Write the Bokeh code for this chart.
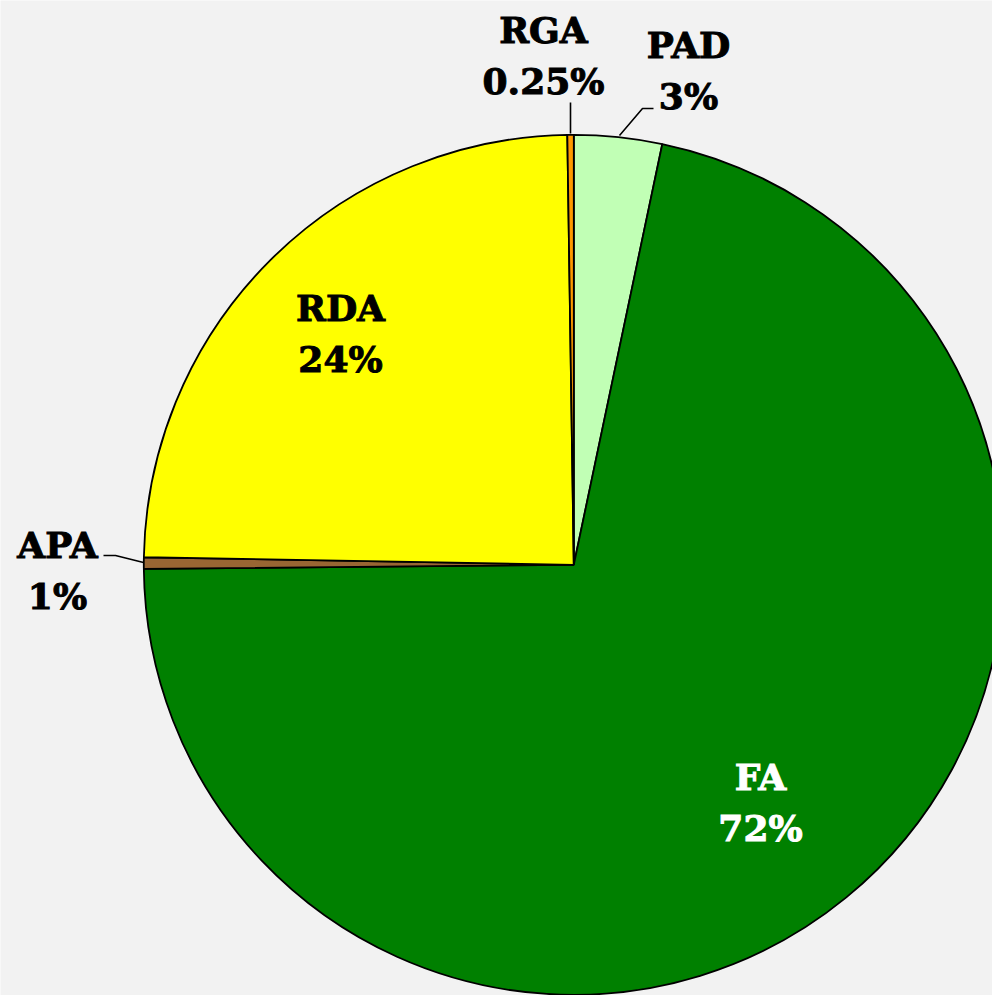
import numpy as np
from bokeh.plotting import figure
from bokeh.models import Range1d, ColumnDataSource
from bokeh.core.properties import value
from bokeh.embed import file_html
from bokeh.resources import INLINE

# ---- data ----
categories = ["PAD", "FA", "APA", "RDA", "RGA"]
shares = [3.3, 71.55, 0.43, 24.48, 0.24]
pct_labels = ["3%", "72%", "1%", "24%", "0.25%"]
colors = ["#c1ffb5", "#008000", "#996633", "#ffff00", "#ff9900"]
label_colors = ["black", "white", "black", "black", "black"]

# ---- layout (page pixel coordinates) ----
W, H = 992, 995
OFF = 0
CX, CY = 573.3, 564.3
R = 430

def X(px):
    return px - CX

def Y(py):
    return CY - py

# label anchors (center x, name baseline y) in page pixels
label_pos = {
    "PAD": (688, 44),
    "FA": (760, 776),
    "APA": (57, 544),
    "RDA": (340, 307),
    "RGA": (543, 29),
}
LINE_GAP = 51

leaders = [
    [(570, 102), (570, 133)],
    [(653, 108), (642, 108), (619, 135)],
    [(103, 555), (115, 555), (143, 562)],
]

frac = np.array(shares) / np.sum(shares)
cw_end = np.cumsum(frac) * 2 * np.pi
cw_start = cw_end - frac * 2 * np.pi
start_angle = np.pi / 2 - cw_end
end_angle = np.pi / 2 - cw_start

src = ColumnDataSource(dict(cat=categories, start=start_angle, end=end_angle, color=colors))

p = figure(width=W, height=H, output_backend="svg", toolbar_location=None,
           x_range=Range1d(X(OFF), X(OFF + W)), y_range=Range1d(Y(OFF + H), Y(OFF)),
           x_axis_location=None, y_axis_location=None, min_border=0,
           background_fill_color="#f2f2f2", border_fill_color="#f2f2f2",
           outline_line_color=None)
p.grid.visible = False

p.wedge(x=0, y=0, radius=R, start_angle="start", end_angle="end",
        fill_color="color", line_color="black", line_width=1.8, source=src)

p.multi_line(xs=[[X(a) for a, b in seg] for seg in leaders],
             ys=[[Y(b) for a, b in seg] for seg in leaders],
             line_color="black", line_width=1.6)

lx, ly1, ly2, names, pcts, tcol = [], [], [], [], [], []
for c, pl, tc in zip(categories, pct_labels, label_colors):
    px, py = label_pos[c]
    lx.append(X(px)); ly1.append(Y(py)); ly2.append(Y(py + LINE_GAP))
    names.append(c); pcts.append(pl); tcol.append(tc)

lsrc = ColumnDataSource(dict(x=lx, y1=ly1, y2=ly2, name=names, pct=pcts, col=tcol))
for ycol, tcolname in (("y1", "name"), ("y2", "pct")):
    p.text(x="x", y=ycol, text=tcolname, source=lsrc, text_align="center",
           text_baseline="alphabetic", text_font=value("DejaVu Serif"),
           text_font_style="bold", text_font_size="36px", text_color="col",
           text_outline_color="col")

html = file_html(p, INLINE)
html = html.replace("<body>", '<body style="background:#f2f2f2;">', 1)
open("out.html", "w").write(html)
